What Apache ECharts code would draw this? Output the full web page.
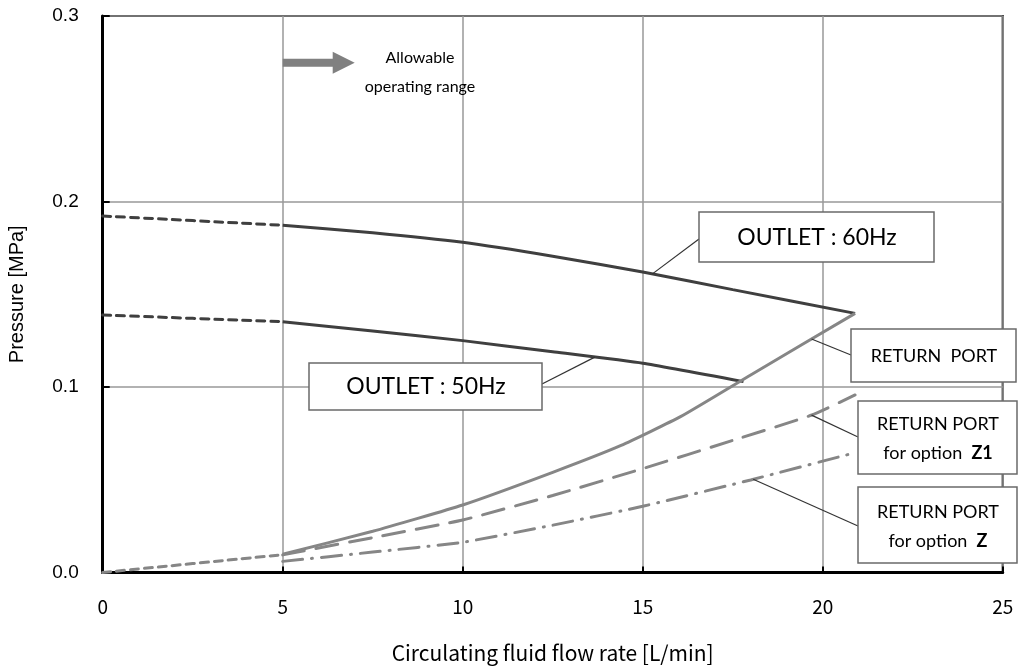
<!DOCTYPE html>
<html>
<head>
<meta charset="utf-8">
<script src="https://cdn.jsdelivr.net/npm/echarts@6/dist/echarts.min.js"></script>
<style>
  html, body { margin: 0; padding: 0; background: #fff; }
  #chart { width: 1032px; height: 669px; }
</style>
</head>
<body>
<div id="chart"></div>
<script>
// Flow rate [L/min] vs pressure [MPa]
const xTicks = [0, 5, 10, 15, 20, 25];
const yTicks = [0.0, 0.1, 0.2, 0.3];

// Pump outlet curves (dotted below 5 L/min, solid within operating range)
const outlet60Low = [[0, 0.1922], [5, 0.1872]];
const outlet60 = [[5, 0.1872], [7.5, 0.1832], [10, 0.1780], [12.5, 0.1705], [15, 0.1620], [17.5, 0.1525], [20.9, 0.1397]];
const outlet50Low = [[0, 0.1388], [5, 0.1352]];
const outlet50 = [[5, 0.1352], [7.5, 0.1302], [10, 0.1250], [12.5, 0.1190], [15, 0.1128], [17.8, 0.1029]];

// Return port pressure drop curves
const returnLow = [[0, 0.0], [5, 0.0096]];
const returnPort = [[5, 0.0098], [7.5, 0.0222], [10, 0.0364], [12.5, 0.0540], [14.4, 0.0685], [16.05, 0.0840], [18, 0.1065], [20.9, 0.1397]];
const returnZ1 = [[5, 0.0095], [7.5, 0.0188], [10, 0.0283], [12.5, 0.0415], [15, 0.0560], [17.5, 0.0712], [19.7, 0.0849], [20.9, 0.0957]];
const returnZ = [[5, 0.0060], [7.5, 0.0110], [10, 0.0163], [12.5, 0.0255], [15, 0.0357], [18, 0.0499], [20.9, 0.0646]];

const DARK = '#3f3f3f';
const GRAY = '#868686';

function lineSeries(name, data, color, type) {
  return {
    name: name, type: 'line', data: data, symbol: 'none', smooth: 0.15,
    lineStyle: { color: color, width: 3, type: type, cap: type === 'solid' ? 'butt' : 'round' },
    z: 3
  };
}

const chart = echarts.init(document.getElementById('chart'), null, { renderer: 'canvas' });

const option = {
  animation: false,
  backgroundColor: '#fff',
  grid: { left: 102.7, right: 29.3, top: 16, bottom: 96.5, outerBoundsMode: 'none', containLabel: false,
    show: true, borderColor: '#000', borderWidth: 2, backgroundColor: 'transparent' },
  xAxis: {
    type: 'value', min: xTicks[0], max: xTicks[xTicks.length - 1], interval: 5,
    name: 'Circulating fluid flow rate [L/min]', nameLocation: 'middle', nameGap: 70,
    nameTextStyle: { fontFamily: 'Noto Sans CJK JP', fontSize: 21, color: '#000' },
    axisLine: { show: true, lineStyle: { color: '#000', width: 3 } },
    axisTick: { show: true, inside: true, length: 6, lineStyle: { color: '#000', width: 2 } },
    axisLabel: { fontFamily: 'Noto Sans CJK JP', fontSize: 19, color: '#000', margin: 25 },
    splitLine: { show: true, lineStyle: { color: '#999', width: 1.5 } }
  },
  yAxis: {
    type: 'value', min: yTicks[0], max: yTicks[yTicks.length - 1], interval: 0.1,
    name: 'Pressure [MPa]', nameLocation: 'middle', nameGap: 75, nameRotate: 90,
    nameTextStyle: { fontFamily: 'Liberation Sans', fontSize: 20, color: '#000' },
    axisLine: { show: true, lineStyle: { color: '#000', width: 3 } },
    axisTick: { show: true, inside: true, length: 7, lineStyle: { color: '#000', width: 2 } },
    axisLabel: { fontFamily: 'Liberation Sans', fontSize: 19, color: '#000', margin: 24, formatter: v => v.toFixed(1) },
    splitLine: { show: true, lineStyle: { color: '#999', width: 1.5 } }
  },
  series: [
    lineSeries('OUTLET 60Hz low', outlet60Low, DARK, [8, 6]),
    lineSeries('OUTLET 60Hz', outlet60, DARK, 'solid'),
    lineSeries('OUTLET 50Hz low', outlet50Low, DARK, [8, 6]),
    lineSeries('OUTLET 50Hz', outlet50, DARK, 'solid'),
    lineSeries('RETURN low', returnLow, GRAY, [8, 6]),
    lineSeries('RETURN PORT', returnPort, GRAY, 'solid'),
    lineSeries('RETURN PORT Z1', returnZ1, GRAY, [22, 12]),
    lineSeries('RETURN PORT Z', returnZ, GRAY, [20, 9, 1, 9])
  ]
};
chart.setOption(option);

// value of a curve at flow rate x (linear between stored points)
function valueAt(data, x) {
  for (let i = 1; i < data.length; i++) {
    if (x <= data[i][0]) {
      const [x0, y0] = data[i - 1], [x1, y1] = data[i];
      return y0 + (y1 - y0) * (x - x0) / (x1 - x0);
    }
  }
  return data[data.length - 1][1];
}
const px = (x, y) => chart.convertToPixel({ gridIndex: 0 }, [x, y]);

const BOX_FONT = 'Lato, "Open Sans", sans-serif';
const graphics = [];

function box(x1, y1, x2, y2) {
  graphics.push({ type: 'rect', z: 50, shape: { x: x1, y: y1, width: x2 - x1, height: y2 - y1 },
    style: { fill: '#fff', stroke: '#6a6a6a', lineWidth: 1.5 } });
}
function label(cx, cy, text, size, lineHeight, rich) {
  graphics.push({ type: 'text', z: 51, x: cx, y: cy,
    style: { text: text, fontFamily: BOX_FONT, fontSize: size, lineHeight: lineHeight, fill: '#000',
      align: 'center', verticalAlign: 'middle', rich: rich || {} } });
}
function leader(from, curve, x) {
  const p = px(x, valueAt(curve, x));
  graphics.push({ type: 'line', z: 49, shape: { x1: from[0], y1: from[1], x2: p[0], y2: p[1] },
    style: { stroke: '#333', lineWidth: 1.2 } });
}

// operating range arrow
const a0 = px(5, 0.2748), a1 = px(7, 0.2748);
const headLen = 22, shaftH = 4, headH = 11;
graphics.push({ type: 'polygon', z: 40, shape: { points: [
  [a0[0], a0[1] - shaftH], [a1[0] - headLen, a0[1] - shaftH], [a1[0] - headLen, a0[1] - headH],
  [a1[0], a0[1]], [a1[0] - headLen, a0[1] + headH], [a1[0] - headLen, a0[1] + shaftH], [a0[0], a0[1] + shaftH]
] }, style: { fill: '#808080' } });
graphics.push({ type: 'text', z: 40, x: 420, y: 72,
  style: { text: 'Allowable\noperating range', fontFamily: BOX_FONT, fontSize: 16, lineHeight: 29, fill: '#000', align: 'center', verticalAlign: 'middle' } });

// OUTLET : 60Hz
box(699, 212, 934, 262);
label(817, 238, 'OUTLET : 60Hz', 23, 26);
leader([699, 239], outlet60, 15.27);

// OUTLET : 50Hz
box(309, 363, 542, 410);
label(426, 387, 'OUTLET : 50Hz', 23, 26);
leader([542, 384], outlet50, 13.67);

// RETURN PORT
box(851, 329, 1016, 382);
label(934, 356, 'RETURN  PORT', 18, 22);
leader([851, 355], returnPort, 19.69);

// RETURN PORT for option Z1 / Z
const rich = { b: { fontFamily: BOX_FONT, fontSize: 18, fontWeight: 'bold', fill: '#000', lineHeight: 29 } };
box(858, 401, 1017, 474);
label(938, 439, 'RETURN PORT\nfor option  {b|Z1}', 18, 29, rich);
leader([858, 437], returnZ1, 19.69);

box(858, 487, 1017, 563);
label(938, 527, 'RETURN PORT\nfor option  {b|Z}', 18, 29, rich);
leader([858, 526], returnZ, 18.07);

chart.setOption({ graphic: graphics });
</script>
</body>
</html>
